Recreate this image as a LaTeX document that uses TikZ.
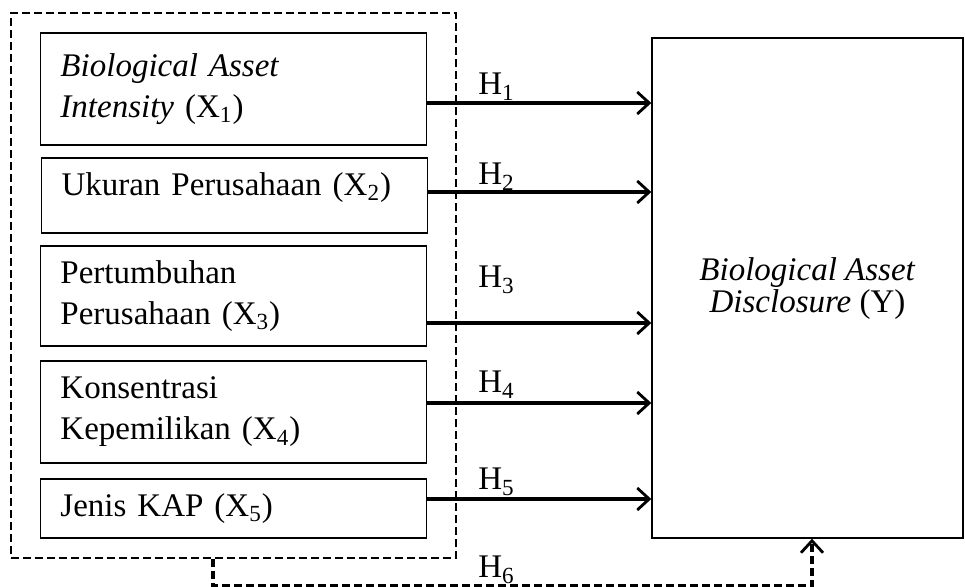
\documentclass[tikz,border=0pt]{standalone}
\usepackage{fontspec}
\setmainfont{Liberation Serif}
\usetikzlibrary{arrows.meta, positioning, calc}

\tikzset{
  varbox/.style={draw, line width=0.7pt, text width=173pt, inner xsep=10pt, inner ysep=0pt, align=left, font=\fontsize{16.5}{20.5}\selectfont},
  groupbox/.style={draw, line width=0.7pt, dash pattern=on 4pt off 2pt, inner sep=0pt},
  depbox/.style={draw, line width=0.7pt, align=center, font=\fontsize{16.5}{16}\selectfont},
  hlabel/.style={anchor=base west, inner sep=0pt, font=\fontsize{16.5}{20}\selectfont},
  harrow/.style={line width=1.6pt, -{Straight Barb[length=6pt, width=11pt, line width=1.4pt]}},
  hdashed/.style={harrow, dash pattern=on 4pt off 2pt}
}

\begin{document}
\begin{tikzpicture}[x=0.5pt, y=0.5pt]
  \useasboundingbox (0,0) rectangle (965,-587);

  % independent variables
  \node[groupbox, minimum width=222.5pt, minimum height=272.5pt] (grp) at (233.5,-285.5) {};
  \node[varbox, minimum height=56pt] (x1) at (233.5,-89) {\textit{Biological Asset}\\\textit{Intensity} (X\textsubscript{1})};
  \node[varbox, minimum height=37.5pt, text depth=11.5pt] (x2) at (234.5,-195.5) {Ukuran Perusahaan (X\textsubscript{2})};
  \node[varbox, minimum height=50pt] (x3) at (233.5,-296) {Pertumbuhan\\Perusahaan (X\textsubscript{3})};
  \node[varbox, minimum height=51pt] (x4) at (233.5,-412) {Konsentrasi\\Kepemilikan (X\textsubscript{4})};
  \node[varbox, minimum height=29.5pt] (x5) at (233.5,-508.5) {Jenis KAP (X\textsubscript{5})};

  % dependent variable
  \node[depbox, minimum width=155.5pt, minimum height=250pt] (y) at (807.5,-288) {\\[-4pt]\textit{Biological Asset}\\\textit{Disclosure} (Y)};

  % hypotheses
  \foreach \b/\s in {x1/-7, x2/1.75, x3/-13.5, x4/4.5, x5/4.75} {
    \coordinate (a\b) at ([yshift=\s pt]\b.east);
    \draw[harrow] (a\b) -- (a\b -| y.west);
  }
  \coordinate (h6a) at ([xshift=-10.25pt]grp.south);
  \coordinate (h6b) at ([xshift=2.25pt]y.south);
  \draw[hdashed] (h6a) -- ++(0,-27) -| (h6b);

  \foreach \i/\yy in {1/95, 2/185, 3/288, 4/393, 5/490, 6/578}
    \node[hlabel] (h\i) at (478,-\yy) {H\textsubscript{\i}};
\end{tikzpicture}
\end{document}
